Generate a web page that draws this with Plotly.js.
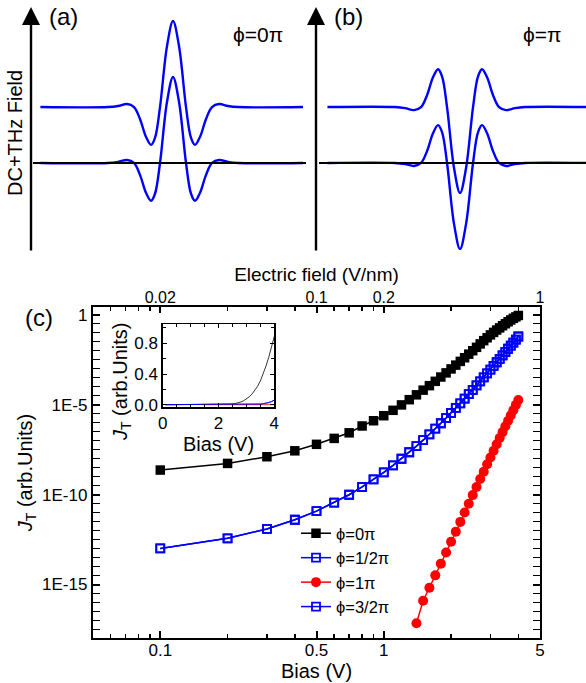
<!DOCTYPE html>
<html>
<head>
<meta charset="utf-8">
<script src="https://cdn.plot.ly/plotly-3.0.1.min.js"></script>
<style>html,body{margin:0;padding:0;background:#fff}#chart{width:586px;height:683px}</style>
</head>
<body>
<div id="chart"></div>
<script>
// ---------- data: panel (c) ----------
const bias = [0.1,0.2,0.3,0.4,0.5,0.6,0.7,0.8,0.9,1.0,1.1,1.2,1.3,1.4,1.5,1.6,1.7,1.8,1.9,2.0,
              2.1,2.2,2.3,2.4,2.5,2.6,2.7,2.8,2.9,3.0,3.1,3.2,3.3,3.4,3.5,3.6,3.7,3.8,3.9,4.0];
const jPhi0 = [2.29e-9,5.37e-9,1.26e-8,2.69e-8,6.17e-8,1.32e-7,2.69e-7,6.46e-7,1.26e-6,2.40e-6,
               4.79e-6,9.55e-6,1.86e-5,3.47e-5,6.31e-5,1.12e-4,1.95e-4,3.39e-4,5.75e-4,9.55e-4,
               1.55e-3,2.51e-3,3.98e-3,6.31e-3,9.77e-3,1.51e-2,2.34e-2,3.55e-2,5.13e-2,7.41e-2,
               0.102,0.138,0.182,0.240,0.309,0.398,0.501,0.617,0.741,0.891];
const jPhi12 = [1.02e-13,3.72e-13,1.23e-12,3.98e-12,1.20e-11,3.55e-11,9.77e-11,2.63e-10,6.92e-10,1.70e-9,
                4.17e-9,9.77e-9,2.24e-8,4.90e-8,1.05e-7,2.19e-7,4.57e-7,9.12e-7,1.78e-6,3.39e-6,
                6.46e-6,1.17e-5,2.14e-5,3.80e-5,6.61e-5,1.15e-4,1.95e-4,3.24e-4,5.37e-4,8.71e-4,
                1.41e-3,2.24e-3,3.47e-3,5.37e-3,8.32e-3,1.26e-2,1.86e-2,2.75e-2,4.07e-2,6.03e-2];
const biasRed = [1.4,1.5,1.6,1.7,1.8,1.9,2.0,2.1,2.2,2.3,2.4,2.5,2.6,2.7,2.8,2.9,3.0,3.1,3.2,3.3,
                 3.4,3.5,3.6,3.7,3.8,3.9,4.0];
const jPhi1 = [7.08e-18,1.26e-16,6.61e-16,3.24e-15,1.45e-14,6.03e-14,2.40e-13,8.71e-13,3.02e-12,1.00e-11,
               3.09e-11,9.33e-11,2.63e-10,7.24e-10,1.86e-9,4.79e-9,1.15e-8,2.69e-8,6.17e-8,1.38e-7,
               2.95e-7,6.17e-7,1.26e-6,2.51e-6,4.90e-6,9.55e-6,1.78e-5];
// phi = 3/2 pi lies exactly on top of phi = 1/2 pi in the figure
const jPhi32 = jPhi12.slice();
const gapNm = 5;              // electric field (V/nm) = bias / 5 nm (top axis)
const seriesNames = ['\u03D5=0\u03C0','\u03D5=1/2\u03C0','\u03D5=1\u03C0','\u03D5=3/2\u03C0'];

// tick labels
const xTickVals = [0.1,0.5,1,5];
const xTickText = ['0.1','0.5','1','5'];
const yTickVals = [1,1e-5,1e-10,1e-15];
const yTickText = ['1','1E-5','1E-10','1E-15'];
const topTickVals = [0.02,0.1,0.2,1];
const topTickText = ['0.02','0.1','0.2','1'];

// ---------- data: panels (a),(b) schematic pulses ----------
const pulseT = [-10.2,-5,-4.23,-3.54,-3,-2.54,-2.08,-1.69,-1.38,-1,-0.46,0,0.46,1,1.38,1.69,2.08,2.54,3,3.54,4.23,5,10.0];
const pulsePhi0 = [0,0,0.012,0.035,0,-0.138,-0.346,-0.44,-0.355,0,0.711,1,0.711,0,-0.355,-0.44,-0.346,-0.138,0,0.035,0.012,0,0];
const pulsePhiPi = [0,0,-0.012,-0.035,0,0.138,0.346,0.44,0.355,0,-0.711,-1,-0.711,0,0.355,0.44,0.346,0.138,0,-0.035,-0.012,0,0];
const dcLevel = 0.65;

// ---------- build ----------
const FONT = 'Liberation Sans, Arial, sans-serif';
const BLUE = '#0000ff', RED = '#ff0000', BLACK = '#000000';
const W = 586, H = 683;
const px = v => v / W;          // helper: pixel -> paper (x)
const py = v => 1 - v / H;      // helper: pixel -> paper (y)

const traces = [];
// panel (a)
traces.push({x: pulseT, y: pulsePhi0.map(v => v + dcLevel), xaxis:'x2', yaxis:'y2', mode:'lines',
  line:{color:BLUE, width:2.4, shape:'spline'}, showlegend:false, hoverinfo:'skip'});
traces.push({x: pulseT, y: pulsePhi0, xaxis:'x2', yaxis:'y2', mode:'lines',
  line:{color:BLUE, width:2.4, shape:'spline'}, showlegend:false, hoverinfo:'skip'});
// panel (b)
traces.push({x: pulseT, y: pulsePhiPi.map(v => v + dcLevel), xaxis:'x5', yaxis:'y5', mode:'lines',
  line:{color:BLUE, width:2.4, shape:'spline'}, showlegend:false, hoverinfo:'skip'});
traces.push({x: pulseT, y: pulsePhiPi, xaxis:'x5', yaxis:'y5', mode:'lines',
  line:{color:BLUE, width:2.4, shape:'spline'}, showlegend:false, hoverinfo:'skip'});

// panel (c) main
traces.push({x: bias, y: jPhi0, name: seriesNames[0], mode:'lines+markers',
  line:{color:BLACK, width:1.5}, marker:{symbol:'square', size:9.5, color:BLACK}});
traces.push({x: bias, y: jPhi12, name: seriesNames[1], mode:'lines+markers',
  line:{color:BLUE, width:1.5}, marker:{symbol:'square-open', size:8, color:BLUE, line:{width:1.8, color:BLUE}}});
traces.push({x: biasRed, y: jPhi1, name: seriesNames[2], mode:'lines+markers',
  line:{color:RED, width:1.5}, marker:{symbol:'circle', size:10, color:RED}});
traces.push({x: bias, y: jPhi32, name: seriesNames[3], mode:'lines+markers',
  line:{color:BLUE, width:1.5}, marker:{symbol:'square-open', size:8, color:BLUE, line:{width:1.8, color:BLUE}}});
// invisible trace to carry the top (electric field) axis
traces.push({x: bias.map(v => v / gapNm), y: jPhi0, xaxis:'x4', yaxis:'y', mode:'markers',
  marker:{opacity:0}, showlegend:false, hoverinfo:'skip'});

// inset (linear)
traces.push({x: bias, y: jPhi0, xaxis:'x3', yaxis:'y3', mode:'lines', line:{color:BLACK, width:0.8}, showlegend:false, hoverinfo:'skip'});
traces.push({x: bias, y: jPhi12, xaxis:'x3', yaxis:'y3', mode:'lines', line:{color:BLUE, width:0.8}, showlegend:false, hoverinfo:'skip'});
traces.push({x: biasRed, y: jPhi1, xaxis:'x3', yaxis:'y3', mode:'lines', line:{color:RED, width:0.8}, showlegend:false, hoverinfo:'skip'});
traces.push({x: bias, y: jPhi32, xaxis:'x3', yaxis:'y3', mode:'lines', line:{color:BLUE, width:0.8}, showlegend:false, hoverinfo:'skip'});

// minor tick positions (styling)
const yMinor = [];
for (let k = 0; k <= 36; k++) { if (k % 10 !== 0) yMinor.push(Math.pow(10, -k / 2)); }
const xMinor = [0.06,0.07,0.08,0.09,0.2,0.3,0.4,0.6,0.7,0.8,0.9,2,3,4];
const topMinor = [0.012,0.014,0.016,0.018,0.04,0.06,0.08,0.12,0.14,0.16,0.18,0.4,0.6,0.8];

const tickFont = {family: FONT, size: 17, color: BLACK};
const titleFont = {family: FONT, size: 20, color: BLACK};
const ann = (x, y, text, size, extra) => Object.assign({xref:'paper', yref:'paper', x: px(x), y: py(y), text: text,
  showarrow:false, xanchor:'center', yanchor:'middle', font:{family: FONT, size: size, color: BLACK}}, extra || {});

const layout = {
  width: W, height: H,
  margin: {l:0, r:0, t:0, b:0},
  paper_bgcolor: '#fff', plot_bgcolor: 'rgba(0,0,0,0)',
  font: {family: FONT, color: BLACK},
  showlegend: true,
  legend: {x: px(296), y: py(516), xanchor:'left', yanchor:'top', bgcolor:'rgba(0,0,0,0)',
           font:{family: FONT, size: 16.5, color: BLACK}, tracegroupgap: 0},
  xaxis: {domain:[px(93), px(540)], type:'log', range:[Math.log10(0.05), Math.log10(5)],
    tickvals: xTickVals, ticktext: xTickText, ticks:'inside', ticklen:7, tickwidth:2, tickcolor:BLACK,
    minor:{tickvals: xMinor, ticks:'inside', ticklen:4, tickwidth:1.5, tickcolor:BLACK},
    showline:true, linewidth:2.2, linecolor:BLACK, mirror:true, showgrid:false, zeroline:false,
    ticklabelstandoff: -5,
    tickfont: tickFont, title:{text:'Bias (V)', font: titleFont, standoff: 0}, anchor:'y'},
  yaxis: {domain:[py(638), py(307)], type:'log', range:[-17.97, 0.42],
    tickvals: yTickVals, ticktext: yTickText, ticks:'inside', ticklen:7, tickwidth:2, tickcolor:BLACK,
    minor:{tickvals: yMinor, ticks:'inside', ticklen:4, tickwidth:1.5, tickcolor:BLACK},
    showline:true, linewidth:2.2, linecolor:BLACK, mirror:'allticks', showgrid:false, zeroline:false,
    tickfont: tickFont, title:{text:'<i>J</i><sub>T</sub> (arb.Units)', font: titleFont, standoff: 4}, anchor:'x'},
  xaxis4: {overlaying:'x', side:'top', anchor:'y', type:'log', range:[-2, 0],
    tickvals: topTickVals, ticktext: topTickText, ticks:'inside', ticklen:6, tickwidth:2, tickcolor:BLACK,
    minor:{tickvals: topMinor, ticks:'inside', ticklen:4, tickwidth:1.5, tickcolor:BLACK},
    showline:false, showgrid:false, zeroline:false, tickfont:{family: FONT, size:16, color:BLACK},
    title:{text:'Electric field (V/nm)', font:{family: FONT, size:19, color:BLACK}, standoff: 2}},
  // inset
  xaxis3: {domain:[px(162.7), px(274.3)], anchor:'y3', range:[0, 4], tickvals:[0,2,4],
    ticks:'inside', ticklen:4, tickwidth:1, tickcolor:BLACK,
    minor:{dtick:0.5, ticks:'inside', ticklen:3, tickwidth:1, tickcolor:BLACK},
    showline:true, linewidth:1.3, linecolor:BLACK, mirror:'allticks', showgrid:false, zeroline:false,
    tickfont: tickFont, title:{text:'Bias (V)', font: titleFont, standoff: 0}},
  yaxis3: {domain:[py(407.3), py(324.3)], anchor:'x3', range:[-0.034, 1.048], tickvals:[0,0.4,0.8],
    ticktext:['0.0','0.4','0.8'], ticks:'inside', ticklen:4, tickwidth:1, tickcolor:BLACK,
    minor:{dtick:0.2, ticks:'inside', ticklen:3, tickwidth:1, tickcolor:BLACK},
    showline:true, linewidth:1.3, linecolor:BLACK, mirror:'allticks', showgrid:false, zeroline:false,
    tickfont: tickFont},
  // panel (a)
  xaxis2: {domain:[px(33), px(306)], range:[-10.77, 10.23], anchor:'free', position: py(163),
    showline:true, linewidth:2.4, linecolor:BLACK, ticks:'', showticklabels:false, showgrid:false,
    zeroline:false, layer:'above traces'},
  yaxis2: {domain:[py(250), 1], range:[-1.012, 1.895], anchor:'x2', visible:false},
  // panel (b)
  xaxis5: {domain:[px(319), 1], range:[-10.85, 9.69], anchor:'free', position: py(163),
    showline:true, linewidth:2.4, linecolor:BLACK, ticks:'', showticklabels:false, showgrid:false,
    zeroline:false, layer:'above traces'},
  yaxis5: {domain:[py(250), 1], range:[-1.012, 1.895], anchor:'x5', visible:false},
  annotations: [
    // vertical field axes with arrow heads
    {xref:'paper', yref:'paper', x: px(31), y: py(7), ax: 0, ay: 245, text:'', showarrow:true,
     arrowhead:2, arrowsize:1.5, arrowwidth:2.4, arrowcolor:BLACK, standoff:0},
    {xref:'paper', yref:'paper', x: px(316), y: py(7), ax: 0, ay: 245, text:'', showarrow:true,
     arrowhead:2, arrowsize:1.5, arrowwidth:2.4, arrowcolor:BLACK, standoff:0},
    ann(63, 16, '(a)', 24),
    ann(348, 16, '(b)', 24),
    ann(258, 34, '\u03D5=0\u03C0', 21),
    ann(542, 34, '\u03D5=\u03C0', 21),
    ann(15, 133, 'DC+THz Field', 20, {textangle:-90}),
    ann(39, 317, '(c)', 24),
    ann(121, 382, '<i>J</i><sub>T</sub> (arb.Units)', 20, {textangle:-90})
  ]
};

Plotly.newPlot('chart', traces, layout, {staticPlot:true, displayModeBar:false});
</script>
</body>
</html>
